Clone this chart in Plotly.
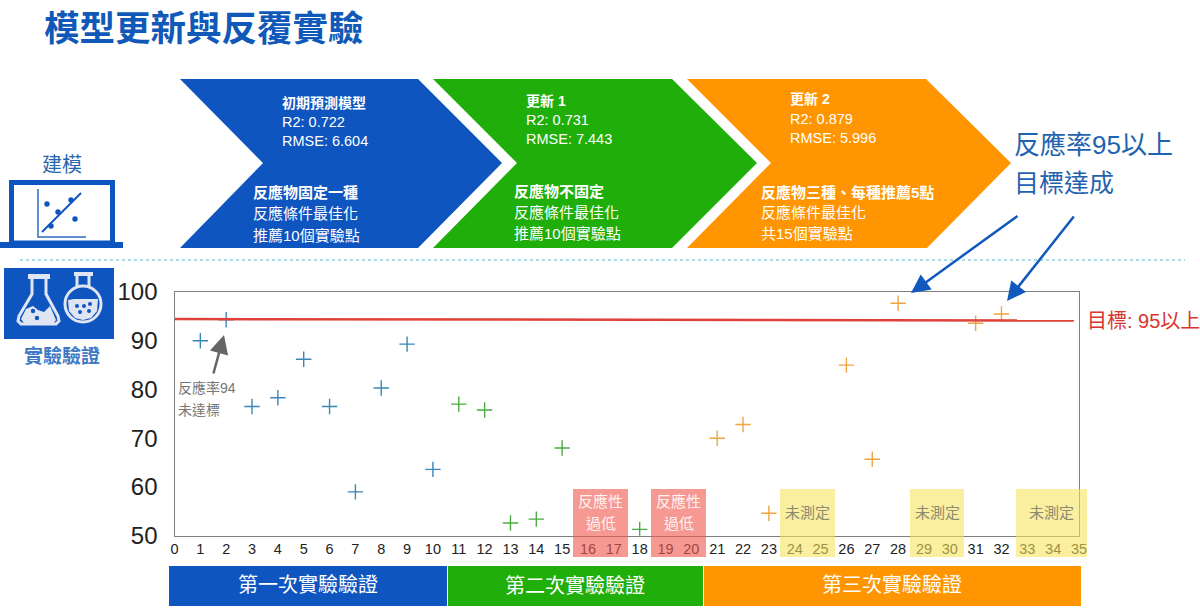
import plotly.graph_objects as go

W, H = 1200, 614
CJK = "Liberation Sans, Noto Sans CJK TC, sans-serif"
BLUE, GREEN, ORANGE = "#0f55c0", "#1fae0a", "#ff9500"

# ---- data ----
round1_x = [1, 2, 3, 4, 5, 6, 7, 8, 9, 10]
round1_y = [90, 94.3, 76.5, 78.3, 86.2, 76.5, 59, 80.3, 89.3, 63.6]
round2_x = [11, 12, 13, 14, 15, 18]
round2_y = [77, 75.8, 52.6, 53.4, 68, 51.3]
round3_x = [21, 22, 23, 26, 27, 28, 31, 32]
round3_y = [70, 72.8, 54.6, 85, 65.7, 97.7, 93.6, 95.5]
target_x = [0, 34.8]
target_y = [94.45, 94.15]
x_ticks = list(range(0, 36))
y_ticks = [50, 60, 70, 80, 90, 100]

title_text = "模型更新與反覆實驗"
step1_head = ["初期預測模型", "R2: 0.722", "RMSE: 6.604"]
step1_body = ["反應物固定一種", "反應條件最佳化", "推薦10個實驗點"]
step2_head = ["更新 1", "R2: 0.731", "RMSE: 7.443"]
step2_body = ["反應物不固定", "反應條件最佳化", "推薦10個實驗點"]
step3_head = ["更新 2", "R2: 0.879", "RMSE: 5.996"]
step3_body = ["反應物三種、每種推薦5點", "反應條件最佳化", "共15個實驗點"]
round_names = ["第一次實驗驗證", "第二次實驗驗證", "第三次實驗驗證"]

# decoration lives on a hidden full-page axis pair measured in page pixels
REFX, REFY = "x2", "y2"


def poly(points, fill=None, line=None, width=0, closed=True):
    d = "M " + " L ".join(f"{a},{b}" for a, b in points) + (" Z" if closed else "")
    return dict(type="path", xref=REFX, yref=REFY, path=d,
                fillcolor=fill if fill else "rgba(0,0,0,0)",
                line=dict(color=line if line else "rgba(0,0,0,0)", width=width), layer="above")


def rect(x0, y0, x1, y1, fill, line=None, width=0):
    return dict(type="rect", xref=REFX, yref=REFY, x0=x0, x1=x1, y0=y0, y1=y1,
                fillcolor=fill, line=dict(color=line if line else "rgba(0,0,0,0)", width=width), layer="above")


def circle(cx, cy, r, fill, line=None, width=0):
    return dict(type="circle", xref=REFX, yref=REFY, x0=cx - r, x1=cx + r, y0=cy - r, y1=cy + r,
                fillcolor=fill, line=dict(color=line if line else "rgba(0,0,0,0)", width=width), layer="above")


def txt(x, y, s, size, color, anchor="left", bold=False):
    return dict(xref=REFX, yref=REFY, x=x - 2 if anchor == "left" else x, y=y,
                text=f"<b>{s}</b>" if bold else s,
                showarrow=False, xanchor=anchor, yanchor="middle",
                font=dict(size=size, color=color, family=CJK))


def arrow(x0, y0, x1, y1, color, width, headsize):
    return dict(xref=REFX, yref=REFY, x=x1, y=y1, axref="pixel", ayref="pixel",
                ax=x0 - x1, ay=y0 - y1, text="", showarrow=True, arrowhead=2, arrowsize=headsize,
                arrowwidth=width, arrowcolor=color)


fig = go.Figure()
for xs, ys, col, nm in [(round1_x, round1_y, "#3a87b7", "第一次"),
                        (round2_x, round2_y, "#4bab3f", "第二次"),
                        (round3_x, round3_y, "#f0a443", "第三次")]:
    fig.add_trace(go.Scatter(x=xs, y=ys, mode="markers", name=nm,
                             marker=dict(symbol="cross-thin", size=11, line=dict(width=1.4, color=col))))
fig.add_trace(go.Scatter(x=target_x, y=target_y, mode="lines", name="目標",
                         line=dict(color="#e0413a", width=2.5)))
fig.add_trace(go.Scatter(x=[None], y=[None], xaxis="x2", yaxis="y2", mode="markers", showlegend=False))

shapes = []
# chevrons
shapes.append(poly([(180, 79), (418, 79), (502, 163), (418, 248), (180, 248), (263, 163)], BLUE))
shapes.append(poly([(433, 79), (672, 79), (757, 163), (672, 248), (433, 248), (517, 163)], GREEN))
shapes.append(poly([(687, 79), (926, 79), (1011, 163), (927, 248), (687, 248), (771, 163)], ORANGE))
# dotted separator
shapes.append(dict(type="line", xref=REFX, yref=REFY, x0=20, x1=1185, y0=260, y1=260,
                   line=dict(color="#8fd0de", width=1.5, dash="dot"), layer="above"))
# laptop icon
shapes.append(rect(11.5, 182.5, 112.5, 243, "rgba(0,0,0,0)", BLUE, 5))
shapes.append(rect(0, 242, 123, 248, BLUE))
shapes.append(poly([(38, 189), (38, 237), (86, 237)], None, "#2f68c0", 1.5, closed=False))
shapes.append(poly([(42, 232), (81, 193)], None, BLUE, 2, closed=False))
for cx, cy in [(47, 204), (71, 200), (58, 212), (75, 219), (51, 226)]:
    shapes.append(circle(cx, cy, 2.7, BLUE))
# flask icon
LIGHT = "#dfe5f3"
shapes.append(rect(4, 268, 114, 339, BLUE))
shapes.append(rect(28, 274, 50, 279, LIGHT))
shapes.append(poly([(32, 279), (32, 294), (19, 316), (18, 321), (21, 324), (56, 324), (59, 321), (58, 316),
                    (46, 294), (46, 279)], None, LIGHT, 3, closed=False))
shapes.append(poly([(26, 309), (33, 306), (38, 310), (44, 312), (50, 306), (56, 320), (54, 323), (24, 323), (21, 319)], LIGHT))
shapes.append(circle(33, 311, 2.2, BLUE))
shapes.append(circle(37, 318, 2.2, BLUE))
shapes.append(rect(74, 272, 93, 276, LIGHT))
shapes.append(poly([(77, 276), (77, 287)], None, LIGHT, 3, closed=False))
shapes.append(poly([(89, 276), (89, 287)], None, LIGHT, 3, closed=False))
shapes.append(circle(83, 304, 18, "rgba(0,0,0,0)", LIGHT, 3))
shapes.append(poly([(68, 300), (74, 299), (98, 299), (97, 311), (91, 318), (83, 320), (75, 318), (69, 311)], LIGHT))
for cx, cy in [(77, 306), (84, 306), (90, 304), (80, 312), (89, 311)]:
    shapes.append(circle(cx, cy, 2, BLUE))
# band blocks under the chart
shapes.append(rect(169, 566, 447, 606, BLUE))
shapes.append(rect(448, 566, 703, 606, GREEN))
shapes.append(rect(704, 566, 1081, 606, ORANGE))
# highlight blocks
for a, b in [(573, 628), (651, 706)]:
    shapes.append(rect(a, 489, b, 557, "rgba(240,90,80,0.62)"))
for a, b in [(780, 835), (910, 964), (1016, 1087)]:
    shapes.append(rect(a, 489, b, 557, "rgba(246,226,90,0.58)"))

ann = [txt(44, 29, title_text, 35.5, "#1059b8", bold=True)]
WHITE = "white"
for x_, ys_, lines in [(282, [103, 122, 141], step1_head), (526, [101, 120, 139], step2_head),
                       (790, [99, 119, 138], step3_head)]:
    ann.append(txt(x_, ys_[0], lines[0], 14, WHITE, bold=True))
    ann.append(txt(x_, ys_[1], lines[1], 14.5, WHITE))
    ann.append(txt(x_, ys_[2], lines[2], 14.5, WHITE))
for x_, ys_, lines in [(253, [192, 213, 235], step1_body), (514, [191, 212, 233], step2_body),
                       (761, [192, 212, 233], step3_body)]:
    ann.append(txt(x_, ys_[0], lines[0], 15, WHITE, bold=True))
    ann.append(txt(x_, ys_[1], lines[1], 15, WHITE))
    ann.append(txt(x_, ys_[2], lines[2], 15, WHITE))

ann += [
    txt(62, 165, "建模", 20, "#2766ad", "center"),
    txt(62, 356, "實驗驗證", 19, "#3a78c6", "center", bold=True),
    txt(1014, 145, "反應率95以上", 26, "#1f63b0"),
    txt(1014, 183, "目標達成", 25, "#1f63b0"),
    txt(1087, 321, "目標: 95以上", 20, "#d8352e"),
    txt(178, 388, "反應率94", 14, "#777777"),
    txt(178, 410, "未達標", 14, "#777777"),
    txt(308, 585, round_names[0], 20, WHITE, "center"),
    txt(575, 586, round_names[1], 20, WHITE, "center"),
    txt(892, 585, round_names[2], 20, WHITE, "center"),
]
for cx in (600.5, 678.5):
    ann.append(txt(cx, 501, "反應性", 15, "#fff3f0", "center"))
    ann.append(txt(cx, 523, "過低", 15, "#fff3f0", "center"))
for cx in (807.5, 937, 1051):
    ann.append(txt(cx, 512, "未測定", 15, "#8a8a70", "center"))
ann.append(arrow(213, 375, 224, 335, "#666666", 2.5, 1.5))
ann.append(arrow(1019, 215, 911, 293, "#1259bd", 2.5, 1.5))
ann.append(arrow(1075, 215, 1007, 301, "#1259bd", 2.5, 1.5))

fig.update_layout(
    width=W, height=H, autosize=False, showlegend=False,
    margin=dict(l=0, r=0, t=0, b=0, pad=0, autoexpand=False),
    paper_bgcolor="white", plot_bgcolor="rgba(0,0,0,0)", hovermode=False,
    font=dict(family=CJK),
    shapes=shapes, annotations=ann,
    xaxis=dict(domain=[174.5 / W, 1079 / W], range=[0, 35], tickmode="array", tickvals=x_ticks,
               showgrid=False, zeroline=False, showline=True, mirror=True, linecolor="#808080", linewidth=1.3,
               ticks="", ticklabelstandoff=0, tickangle=0,
               tickfont=dict(size=14.5, color="#222222", family=CJK)),
    yaxis=dict(domain=[1 - 535.7 / H, 1 - 292 / H], range=[50, 100], tickmode="array", tickvals=y_ticks,
               showgrid=False, zeroline=False, showline=True, mirror=True, linecolor="#808080", linewidth=1.3,
               ticks="", ticklabelstandoff=11,
               tickfont=dict(size=24, color="#222222", family=CJK)),
    xaxis2=dict(domain=[0, 1], range=[0, W], visible=False, fixedrange=True),
    yaxis2=dict(domain=[0, 1], range=[H, 0], visible=False, fixedrange=True),
)
fig.write_html("out.html", config=dict(displayModeBar=False),
               post_script="document.body.style.margin='0';document.documentElement.style.overflow='hidden';")
